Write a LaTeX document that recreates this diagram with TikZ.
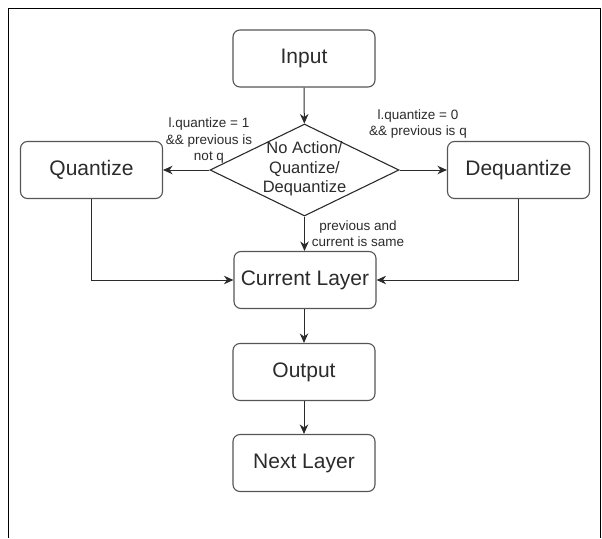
\documentclass[tikz,border=0pt]{standalone}
\usepackage{fontspec}
\setmainfont{Liberation Sans}
\usetikzlibrary{arrows.meta,shapes.geometric}
\definecolor{inkgray}{HTML}{2B2B2B}
\definecolor{boxgray}{HTML}{555555}

\begin{document}
\begin{tikzpicture}[
    x=1pt, y=-1pt,
    every node/.style={color=inkgray},
    stepbox/.style={draw=boxgray, line width=1.1pt, rounded corners=7pt,
        minimum width=142pt, minimum height=57pt, inner sep=0pt,
        font=\fontsize{21}{25}\selectfont},
    choice/.style={diamond, draw=inkgray, line width=1.1pt, inner sep=0pt,
        minimum width=189pt, minimum height=92pt},
    choice text/.style={align=center, font=\fontsize{16.5}{19.5}\selectfont},
    flow/.style={draw=inkgray, line width=1pt,
        -{Stealth[length=9.5pt, width=8.5pt, inset=3pt]}},
    note/.style={align=center, font=\fontsize{13.5}{16.5}\selectfont}
    ]
    \useasboundingbox (0,0) rectangle (602,538);
    % Frame
    \draw[black, line width=1pt] (8.5,538) -- (8.5,8.5) -- (600.5,8.5) -- (600.5,538);
    % Boxes
    \node[stepbox] (input) at (304,58.5) {Input};
    \node[choice] (dec) at (304.5,170) {};
    \node[choice text] (dectext) at (304.5,169) {No Action/\\Quantize/\\Dequantize};
    \node[stepbox] (quant) at (91.5,170) {Quantize};
    \node[stepbox] (dequant) at (518.5,170) {Dequantize};
    \node[stepbox] (cur) at (305,280) {Current Layer};
    \node[stepbox] (out) at (304,372) {Output};
    \node[stepbox] (next) at (304,463) {Next Layer};
    % Lines
    \draw[flow] (input) -- (dec);
    \draw[flow] (dec.west) -- (quant.east);
    \draw[flow] (dec.east) -- (dequant.west);
    \draw[flow] (dec.south) -- (dec.south |- cur.north);
    \draw[flow] (quant.south) |- (cur.west);
    \draw[flow] (dequant.south) |- (cur.east);
    \draw[flow] (out.north |- cur.south) -- (out);
    \draw[flow] (out) -- (next);
    % Conditions
    \node[note] (toquant) at (209,141) {l.quantize = 1\\\&\& previous is\\not q};
    \node[note] (todequant) at (418,124) {l.quantize = 0\\\&\& previous is q};
    \node[note] (tocur) at (358,233.5) {previous and\\current is same};
\end{tikzpicture}
\end{document}
